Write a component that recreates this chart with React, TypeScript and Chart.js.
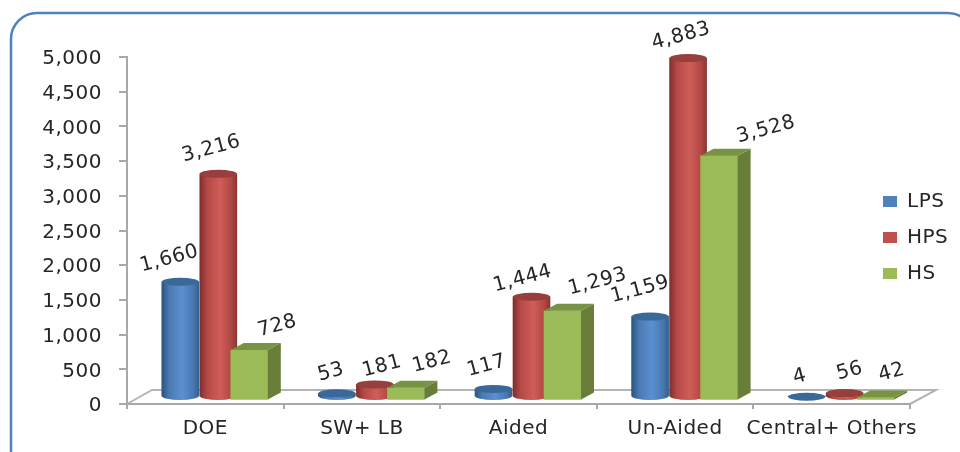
import React, { useEffect, useRef } from "react";
import { Chart, registerables } from "chart.js";

Chart.register(...registerables);

const categories = ["DOE", "SW+ LB", "Aided", "Un-Aided", "Central+ Others"];
const lps = [1660, 53, 117, 1159, 4];
const hps = [3216, 181, 1444, 4883, 56];
const hs = [728, 182, 1293, 3528, 42];
const seriesNames = ["LPS", "HPS", "HS"];

const FONT = "'DejaVu Sans'";
const FONT_SIZE = 20;
const TEXT = "#262626";
const AXIS = "#a8a8a8";

// shift of each series from the category centre and from the axis line
const slotShift = [-25, 13, 44];
const baseLift = [7, 7, 3.5];
const BAR_W = 37;
const CAP_RY = 4;
const DEPTH_X = 13;
const DEPTH_Y = 7;

const solid = ["#4f81bd", "#c0504d", "#9bbb59"];
const cylinderStops = [
  ["#2c5381", "#4a7ab2", "#5b8fd0", "#4878b0", "#33608f"],
  ["#7f2f2d", "#b44946", "#d05d59", "#b04744", "#8a3634"],
];
const capColor = ["#3a6898", "#963f3c"];
const boxSide = "#687d38";
const boxTop = "#779343";

// label nudges from the top of each bar, per series then per category
const labelNudgeX = [
  [-11, -6, -7, -10, -7],
  [-7, 7, -9, -7, 5],
  [28, 26, 35, 47, 16],
];
const labelNudgeY = [
  [-23, -21, -23, -27, -20],
  [-25, -18, -18, -22, -22],
  [-24, -26, -29, -26, -25],
];

const fmt = (v: number) => v.toLocaleString("en-US");

const paint3d = {
  id: "paint3d",
  beforeLayout(chart: any) {
    chart.ctx.letterSpacing = "0.5px";
  },
  beforeDraw(chart: any) {
    const c = chart.ctx;
    c.letterSpacing = "0.5px";
    const { y: ys, x: xs } = chart.scales;
    c.save();
    c.strokeStyle = "#4f81bd";
    c.lineWidth = 2.5;
    c.beginPath();
    c.roundRect(11, 13, 963, 500, 26);
    c.stroke();
    // floor of the 3D box
    const front = ys.getPixelForValue(0);
    c.strokeStyle = "#b4b4b4";
    c.lineWidth = 2;
    c.beginPath();
    c.moveTo(xs.left, front);
    c.lineTo(xs.left + 25, front - 14);
    c.lineTo(xs.right + 26, front - 14);
    c.lineTo(xs.right, front);
    c.stroke();
    c.restore();
  },
  afterDatasetsUpdate(chart: any) {
    chart.data.datasets.forEach((_: any, i: number) => {
      chart.getDatasetMeta(i).data.forEach((el: any) => {
        el.x += slotShift[i];
        el.y -= baseLift[i];
        el.base -= baseLift[i];
      });
    });
  },
  beforeDatasetDraw(chart: any, args: any) {
    const i = args.index;
    if (i > 1) return;
    const c = chart.ctx;
    args.meta.data.forEach((el: any) => {
      c.save();
      c.fillStyle = gradientFor(c, el.x, i);
      c.beginPath();
      c.ellipse(el.x, el.base, BAR_W / 2, CAP_RY, 0, 0, Math.PI);
      c.fill();
      c.restore();
    });
  },
  afterDatasetDraw(chart: any, args: any) {
    const i = args.index;
    const c = chart.ctx;
    args.meta.data.forEach((el: any) => {
      c.save();
      if (i < 2) {
        c.fillStyle = capColor[i];
        c.beginPath();
        c.ellipse(el.x, el.y, BAR_W / 2, CAP_RY, 0, 0, Math.PI * 2);
        c.fill();
      } else {
        const l = el.x - BAR_W / 2;
        const r = el.x + BAR_W / 2;
        c.fillStyle = boxSide;
        c.beginPath();
        c.moveTo(r, el.y);
        c.lineTo(r + DEPTH_X, el.y - DEPTH_Y);
        c.lineTo(r + DEPTH_X, el.base - DEPTH_Y);
        c.lineTo(r, el.base);
        c.closePath();
        c.fill();
        c.fillStyle = boxTop;
        c.beginPath();
        c.moveTo(l, el.y);
        c.lineTo(l + DEPTH_X, el.y - DEPTH_Y);
        c.lineTo(r + DEPTH_X, el.y - DEPTH_Y);
        c.lineTo(r, el.y);
        c.closePath();
        c.fill();
      }
      c.restore();
    });
  },
  afterDatasetsDraw(chart: any) {
    const c = chart.ctx;
    chart.data.datasets.forEach((ds: any, i: number) => {
      chart.getDatasetMeta(i).data.forEach((el: any, j: number) => {
        c.save();
        c.translate(el.x + labelNudgeX[i][j], el.y + labelNudgeY[i][j]);
        c.rotate((-15 * Math.PI) / 180);
        c.font = `${FONT_SIZE}px ${FONT}`;
        c.fillStyle = TEXT;
        c.textAlign = "center";
        c.textBaseline = "middle";
        c.fillText(fmt(ds.data[j]), 0, 0);
        c.restore();
      });
    });
  },
  afterLayout(chart: any) {
    const l = chart.legend;
    l.left = 867;
    l.right = 960;
    l.top = 175.5;
    l.bottom = 310;
  },
};

function gradientFor(c: CanvasRenderingContext2D, x: number, i: number) {
  const g = c.createLinearGradient(x - BAR_W / 2, 0, x + BAR_W / 2, 0);
  const stops = cylinderStops[i];
  [0, 0.2, 0.55, 0.85, 1].forEach((p, k) => g.addColorStop(p, stops[k]));
  return g;
}

function fillFor(i: number) {
  return (ctx: any) => {
    if (i > 1 || ctx.dataIndex === undefined) return solid[i];
    const chart = ctx.chart;
    const x = chart.scales.x.getPixelForValue(ctx.dataIndex) + slotShift[i];
    return gradientFor(chart.ctx, x, i);
  };
}

export default function App() {
  const ref = useRef<HTMLCanvasElement>(null);
  useEffect(() => {
    const chart = new Chart(ref.current as any, {
      type: "bar",
      data: {
        labels: categories,
        datasets: [lps, hps, hs].map((data, i) => ({
          label: seriesNames[i],
          data,
          order: 3 - i,
          grouped: false,
          barThickness: BAR_W,
          borderWidth: 0,
          clip: false,
          backgroundColor: fillFor(i),
        })),
      },
      options: {
        animation: false,
        responsive: false,
        layout: { padding: { top: 57, right: 50, left: 0, bottom: 0 } },
        plugins: {
          tooltip: { enabled: false },
          legend: {
            position: "chartArea",
            align: "start",
            labels: {
              boxWidth: 14,
              boxHeight: 11,
              padding: 16,
              color: TEXT,
              font: { family: FONT, size: FONT_SIZE },
              generateLabels: () =>
                seriesNames.map((text, i) => ({
                  text,
                  fillStyle: solid[i],
                  strokeStyle: solid[i],
                  lineWidth: 0,
                  datasetIndex: i,
                  fontColor: TEXT,
                })),
            },
          },
        },
        scales: {
          x: {
            afterFit: (s: any) => {
              s.height = 48;
            },
            border: { color: AXIS, width: 2 },
            grid: { drawOnChartArea: false, color: AXIS, lineWidth: 2, tickLength: 5, tickColor: AXIS },
            ticks: {
              autoSkip: false,
              maxRotation: 0,
              minRotation: 0,
              padding: 8,
              color: TEXT,
              font: { family: FONT, size: FONT_SIZE },
            },
          },
          y: {
            min: 0,
            max: 5000,
            afterFit: (s: any) => {
              s.width = 127;
            },
            border: { color: AXIS, width: 2 },
            grid: { drawOnChartArea: false, color: AXIS, lineWidth: 2, tickLength: 8, tickColor: AXIS },
            ticks: {
              stepSize: 500,
              padding: 17,
              labelOffset: 2,
              color: TEXT,
              font: { family: FONT, size: FONT_SIZE },
              callback: (v: any) => fmt(Number(v)),
            },
          },
        },
      },
      plugins: [paint3d],
    } as any);
    return () => chart.destroy();
  }, []);
  return (
    <canvas
      ref={ref}
      width={960}
      height={452}
      style={{ position: "fixed", left: 0, top: 0, display: "block", background: "#fff" }}
    />
  );
}
